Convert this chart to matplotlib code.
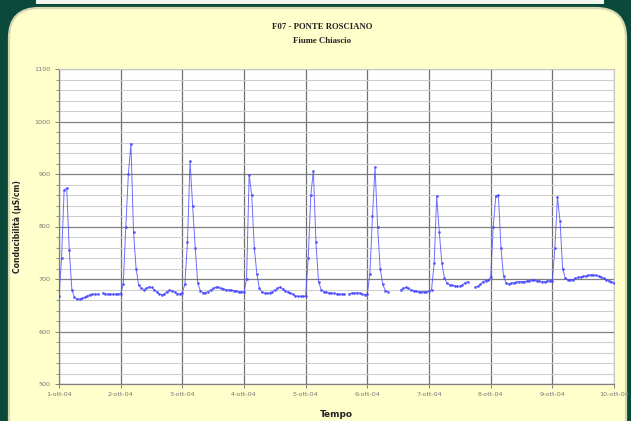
import numpy as np
import pandas as pd
import matplotlib
matplotlib.use("Agg")
import matplotlib.pyplot as plt
from matplotlib.patches import FancyBboxPatch, Rectangle
from matplotlib.ticker import MultipleLocator

title1 = "F07 - PONTE ROSCIANO"
title2 = "Fiume Chiascio"
ylabel = "Conducibilità (µS/cm)"
xlabel = "Tempo"
tick_labels = ["1-ott-04", "2-ott-04", "3-ott-04", "4-ott-04", "5-ott-04",
               "6-ott-04", "7-ott-04", "8-ott-04", "9-ott-04", "10-ott-04"]

nan = np.nan
day1 = [667, 740, 870, 873, 755, 680, 665, 662, 662, 663, 665, 668,
        670, 671, 671, 671, nan, 673, 672, 671, 671, 671, 671, 672]
day2 = [672, 690, 800, 900, 958, 790, 720, 688, 683, 680, 682, 685,
        684, 680, 676, 672, 670, 671, 676, 679, 678, 675, 672, 672]
day3 = [674, 690, 770, 925, 840, 760, 692, 678, 674, 674, 676, 679,
        682, 684, 684, 682, 681, 680, 679, 679, 678, 677, 676, 676]
day4 = [675, 700, 898, 860, 760, 710, 682, 675, 673, 673, 674, 676,
        679, 682, 685, 681, 678, 676, 674, 671, 668, 667, 667, 667]
day5 = [667, 740, 860, 906, 770, 695, 680, 676, 675, 674, 673, 673,
        672, 671, 671, 671, nan, 672, 673, 673, 674, 673, 671, 670]
day6 = [672, 710, 820, 913, 800, 720, 690, 678, 676, nan, nan, nan,
        nan, 680, 682, 684, 682, 680, 678, 677, 676, 676, 676, 676]
day7 = [677, 680, 730, 858, 790, 730, 702, 692, 689, 688, 687, 686,
        686, 689, 693, 695, nan, nan, 685, 686, 690, 695, 697, 698]
day8 = [703, 800, 858, 860, 760, 705, 693, 690, 692, 693, 694, 695,
        695, 695, 696, 697, 698, 698, 697, 696, 695, 695, 696, 697]
day9 = [697, 760, 856, 810, 720, 702, 699, 698, 699, 701, 703, 704,
        705, 706, 707, 708, 708, 707, 705, 703, 701, 699, 697, 695]
last = [693]

values = day1 + day2 + day3 + day4 + day5 + day6 + day7 + day8 + day9 + last
times = pd.date_range("2004-10-01", periods=len(values), freq="h")
day_ticks = pd.date_range("2004-10-01", periods=len(tick_labels), freq="D")

W, H = 631, 421
fig = plt.figure(figsize=(W / 100, H / 100), dpi=100)
fig.patch.set_facecolor("#0b4a3b")
px = fig.dpi_scale_trans  # 1 unit = 100 px


def P(v):
    return v / 100.0


# top strip of another panel
fig.patches.append(Rectangle((P(36), P(H - 4)), P(568), P(4), transform=px,
                             facecolor="#f2f5ee", edgecolor="none",
                             zorder=-2))
panel = FancyBboxPatch((P(9), P(-30)), P(617), P(H - 8 + 30),
                       boxstyle="round,pad=0,rounding_size=0.30",
                       transform=px, facecolor="#ffffcc",
                       edgecolor="#d6d6b0", linewidth=1.6, zorder=-2)
fig.patches.append(panel)

ax = fig.add_axes([59 / W, 1 - 384 / H, 555 / W, 315 / H])
ax.set_zorder(5)
ax.set_facecolor("white")

ax.plot(times, values, color="#4a4aff", lw=0.7, marker="o", ms=1.0,
        alpha=0.8, zorder=3)

ax.set_xlim(day_ticks[0], day_ticks[-1])
ax.set_ylim(500, 1100)
ax.yaxis.set_major_locator(MultipleLocator(100))
ax.yaxis.set_minor_locator(MultipleLocator(20))
ax.set_xticks(day_ticks)
ax.set_xticklabels(tick_labels)

ax.grid(which="minor", axis="y", color="#cdcdcd", lw=0.8, zorder=1)
ax.grid(which="major", axis="y", color="#808080", lw=0.9, zorder=2)
ax.grid(which="major", axis="x", color="#707070", lw=0.9, zorder=2)

for s in ["top", "right"]:
    ax.spines[s].set_color("#c8c8c8")
    ax.spines[s].set_linewidth(0.8)
for s in ["left", "bottom"]:
    ax.spines[s].set_color("#808080")
    ax.spines[s].set_linewidth(0.9)

ax.tick_params(axis="both", which="major", labelsize=4.6, colors="#808080",
               labelcolor="#777777", length=3, width=0.7, pad=3)
ax.tick_params(axis="y", which="minor", length=2, width=0.6, colors="#808080")

ax.set_ylabel(ylabel, fontsize=5.5, fontweight="bold", color="#222222")
ax.yaxis.set_label_coords(-0.067, 0.5)
ax.set_xlabel(xlabel, fontsize=6.5, fontweight="bold", color="#222222")
ax.xaxis.set_label_coords(0.5, -0.083)

fig.text(322 / W, 1 - 27 / H, title1, ha="center", va="center",
         fontsize=6.3, fontweight="bold", family="Liberation Serif",
         color="#222222")
fig.text(322 / W, 1 - 41 / H, title2, ha="center", va="center",
         fontsize=6.3, fontweight="bold", family="Liberation Serif",
         color="#222222")

fig.savefig("out.png", dpi=100, facecolor=fig.get_facecolor())
